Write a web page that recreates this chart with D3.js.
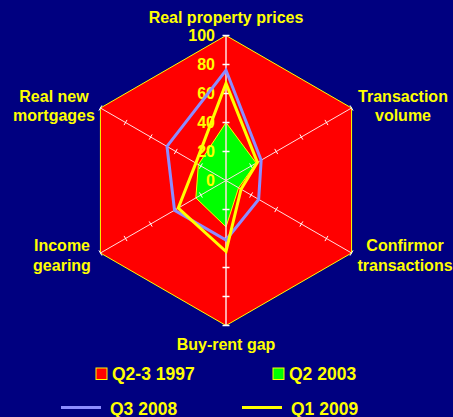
<!DOCTYPE html>
<html>
<head>
<meta charset="utf-8">
<script src="https://cdn.jsdelivr.net/npm/d3@7"></script>
<style>
  html, body { margin: 0; padding: 0; background: #000080; }
  #chart { width: 453px; height: 417px; }
  text { font-family: "Liberation Sans", Arial, sans-serif; font-weight: bold; fill: #ffff00; }
</style>
</head>
<body>
<div id="chart"></div>
<script>
// Radar chart: housing market indicators, four periods
const categories = ['Real property prices', 'Transaction volume', 'Confirmor transactions',
                    'Buy-rent gap', 'Income gearing', 'Real new mortgages'];
const q2_3_1997 = [100, 100, 100, 100, 100, 100];
const q2_2003  = [40, 24, 10, 32, 24, 22];
const q3_2008  = [76, 28, 26, 41, 41, 47];
const q1_2009  = [67, 25, 12, 49, 38, 24];
const ticks = [0, 20, 40, 60, 80, 100];

const W = 453, H = 417;
const cx = 226, cy = 180.5;
const svg = d3.select('#chart').append('svg').attr('width', W).attr('height', H);
svg.append('rect').attr('width', W).attr('height', H).attr('fill', '#000080');

const r = d3.scaleLinear().domain([0, 100]).range([0, 145]);
const angle = d3.scaleLinear().domain([0, categories.length]).range([0, 2 * Math.PI]);
const g = svg.append('g').attr('transform', `translate(${cx},${cy})`);

const radial = d3.lineRadial().angle((d, i) => angle(i)).radius(d => r(d)).curve(d3.curveLinearClosed);

// filled series
g.append('path').attr('d', radial(q2_3_1997)).attr('fill', '#ff0000').attr('stroke', '#ffff00').attr('stroke-width', 1);
g.append('path').attr('d', radial(q2_2003)).attr('fill', '#00ff00').attr('stroke', '#ffff00').attr('stroke-width', 1);

// axes with ticks
categories.forEach((c, i) => {
  const a = angle(i);
  const ux = Math.sin(a), uy = -Math.cos(a);
  const vert = i === 0 || i === 3;
  g.append('line').attr('x1', 0).attr('y1', 0)
    .attr('x2', ux * r(100)).attr('y2', uy * r(100))
    .attr('stroke', '#ffe0e0').attr('stroke-width', vert ? 1.5 : 1);
  ticks.slice(1).forEach(t => {
    const px = ux * r(t), py = uy * r(t);
    const len = vert ? 3.5 : 3;
    g.append('line')
      .attr('x1', px - uy * len).attr('y1', py + ux * len)
      .attr('x2', px + uy * len).attr('y2', py - ux * len)
      .attr('stroke', '#ffffff').attr('stroke-width', vert ? 1.5 : 1);
  });
});

// tick labels on the top axis
g.selectAll('.tl').data(ticks).enter().append('text')
  .attr('x', -11).attr('y', d => -r(d)).attr('dy', '0.36em')
  .attr('text-anchor', 'end').attr('font-size', 16).text(d => d);

// line series
g.append('path').attr('d', radial(q3_2008)).attr('fill', 'none').attr('stroke', '#8c8cff').attr('stroke-width', 3);
g.append('path').attr('d', radial(q1_2009)).attr('fill', 'none').attr('stroke', '#ffff00').attr('stroke-width', 3);

// category labels
const labelPos = [
  {x: 226, y: [23], lines: ['Real property prices']},
  {x: 403, y: [102, 121], lines: ['Transaction', 'volume']},
  {x: 405, y: [251, 271], lines: ['Confirmor', 'transactions']},
  {x: 226, y: [350], lines: ['Buy-rent gap']},
  {x: 62, y: [251, 271], lines: ['Income', 'gearing']},
  {x: 54, y: [102, 121], lines: ['Real new', 'mortgages']}
];
labelPos.forEach(p => {
  const t = svg.append('text').attr('text-anchor', 'middle').attr('font-size', 16);
  p.lines.forEach((l, j) => t.append('tspan').attr('x', p.x).attr('y', p.y[j]).text(l));
});

// legend
const legend = [
  {name: 'Q2-3 1997', type: 'box', color: '#ff0000', x: 96, y: 380},
  {name: 'Q2 2003', type: 'box', color: '#00ff00', x: 273, y: 380},
  {name: 'Q3 2008', type: 'line', color: '#8c8cff', x: 61, y: 414.5},
  {name: 'Q1 2009', type: 'line', color: '#ffff00', x: 242, y: 414.5}
];
legend.forEach(l => {
  if (l.type === 'box') {
    svg.append('rect').attr('x', l.x).attr('y', l.y - 12).attr('width', 11).attr('height', 11.5)
      .attr('fill', l.color).attr('stroke', '#ffff00').attr('stroke-width', 1);
    svg.append('text').attr('x', l.x + 16).attr('y', l.y).attr('font-size', 17.5).text(l.name);
  } else {
    svg.append('line').attr('x1', l.x).attr('x2', l.x + 40).attr('y1', 407.5).attr('y2', 407.5)
      .attr('stroke', l.color).attr('stroke-width', 3);
    svg.append('text').attr('x', l.x + 49).attr('y', l.y).attr('font-size', 17.5).text(l.name);
  }
});
</script>
</body>
</html>
